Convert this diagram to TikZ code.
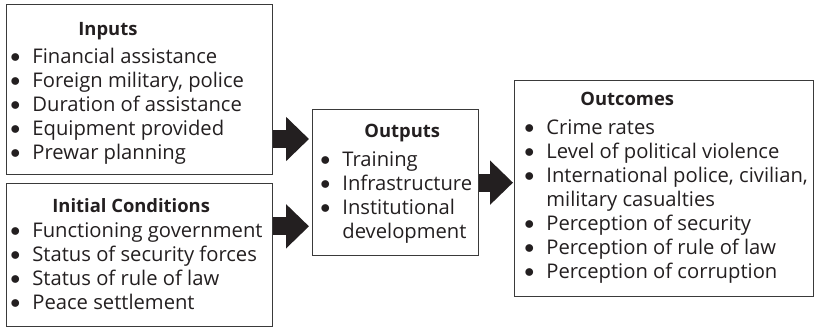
\documentclass[tikz,border=0pt]{standalone}
\usepackage{fontspec}
\setmainfont{Open Sans}
\usetikzlibrary{arrows.meta}
\definecolor{ink}{HTML}{231F20}
\definecolor{edge}{HTML}{3A3A3A}
\newcommand{\itm}[1]{\makebox[11pt][l]{\raisebox{0.5pt}{$\bullet$}}#1\\}
\newcommand{\cnt}[1]{\makebox[11pt][l]{}#1\\}
\begin{document}
\begin{tikzpicture}[x=0.5pt, y=-0.5pt, text=ink,
  box/.style = {draw=edge, line width=0.65pt, inner sep=0, anchor=north west},
  head/.style = {anchor=base west, inner sep=0, font=\fontsize{9.2}{12}\selectfont\bfseries},
  items/.style = {anchor=base west, inner sep=0, font=\fontsize{10.1}{12}\selectfont},
  bigarrow/.style = {draw=ink, line width=9pt, -{Triangle[length=11.5pt, width=21.5pt]}}]
\useasboundingbox (0,0) rectangle (814,328);
% boxes
\node[box, minimum width=133pt, minimum height=85pt] (inputs) at (6,4) {};
\node[box, minimum width=133pt, minimum height=71.5pt] (conds) at (6,183) {};
\node[box, minimum width=83pt, minimum height=73pt] (outputs) at (312,109) {};
\node[box, minimum width=149.5pt, minimum height=108pt] (outcomes) at (514,80) {};
% texts
\node[head] (inputs-t) at (78,35) {Inputs};
\node[items] (inputs-l) at (10,63) {\begin{tabular}[t]{@{}l@{}}
  \itm{Financial assistance}
  \itm{Foreign military, police}
  \itm{Duration of assistance}
  \itm{Equipment provided}
  \itm{Prewar planning}
\end{tabular}};
\node[head] (conds-t) at (52,212) {Initial Conditions};
\node[items] (conds-l) at (10,237) {\begin{tabular}[t]{@{}l@{}}
  \itm{Functioning government}
  \itm{Status of security forces}
  \itm{Status of rule of law}
  \itm{Peace settlement}
\end{tabular}};
\node[head] (outputs-t) at (364,137) {Outputs};
\node[items] (outputs-l) at (320,166) {\begin{tabular}[t]{@{}l@{}}
  \itm{Training}
  \itm{Infrastructure}
  \itm{Institutional}
  \cnt{development}
\end{tabular}};
\node[head] (outcomes-t) at (580,105) {Outcomes};
\node[items] (outcomes-l) at (524,134) {\begin{tabular}[t]{@{}l@{}}
  \itm{Crime rates}
  \itm{Level of political violence}
  \itm{International police, civilian,}
  \cnt{military casualties}
  \itm{Perception of security}
  \itm{Perception of rule of law}
  \itm{Perception of corruption}
\end{tabular}};
% arrows
\coordinate (in1) at ([yshift=-15pt]outputs.north west);
\coordinate (in2) at ([yshift=15pt]outputs.south west);
\draw[bigarrow, shorten >=1.5pt] (inputs.east |- in1) -- (in1);
\draw[bigarrow, shorten >=1.5pt] (conds.east |- in2) -- (in2);
\draw[bigarrow, shorten >=0.5pt] (outputs.east) -- (outcomes.west |- outputs.east);
\end{tikzpicture}
\end{document}
